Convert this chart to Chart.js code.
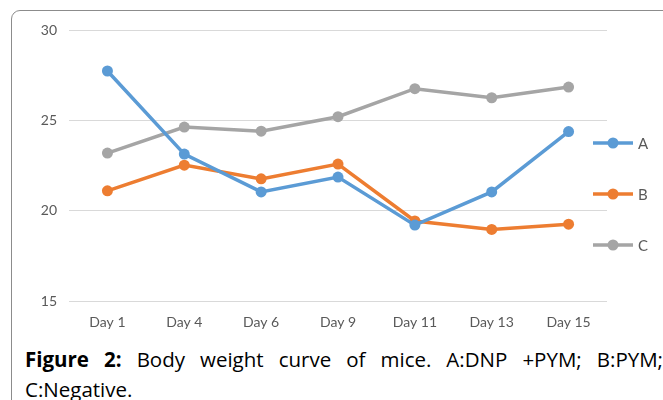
<!DOCTYPE html>
<html lang="en">
<head>
    <meta charset="UTF-8">
    <title>Body weight curve of mice</title>
    <style>
        body {
            margin: 0;
            width: 663px;
            height: 400px;
            overflow: hidden;
            background: #fff;
            position: relative;
            font-family: "Open Sans", sans-serif;
        }

        .frame {
            position: absolute;
            left: 11px;
            top: 10px;
            width: 720px;
            height: 460px;
            border: 1px solid #8c8c8c;
            border-radius: 9px;
        }

        #chart-box {
            position: absolute;
            left: 0;
            top: 0;
            width: 663px;
            height: 335px;
        }

        .caption {
            position: absolute;
            left: 25px;
            top: 344px;
            width: 638px;
            font-size: 20.5px;
            line-height: 30px;
            color: #000;
            text-align: justify;
        }
    </style>
    <script src="https://cdn.jsdelivr.net/npm/chart.js"></script>
</head>
<body>
    <div class="frame"></div>
    <div id="chart-box">
        <canvas id="weight-chart"></canvas>
    </div>
    <div class="caption"><b>Figure 2:</b> Body weight curve of mice. A:DNP +PYM; B:PYM; C:Negative.</div>
    <script>
        const days = ['Day 1', 'Day 4', 'Day 6', 'Day 9', 'Day 11', 'Day 13', 'Day 15'];
        const groupA = [27.73, 23.13, 21.04, 21.86, 19.2, 21.04, 24.38];
        const groupB = [21.1, 22.52, 21.76, 22.58, 19.43, 18.96, 19.25];
        const groupC = [23.19, 24.63, 24.4, 25.2, 26.75, 26.25, 26.84];
        const seriesNames = ['A', 'B', 'C'];
        const seriesColors = ['#5b9bd5', '#ed7d31', '#a5a5a5'];

        // legend drawn by hand: short line with a dot, then the name
        const sideLegend = {
            id: 'sideLegend',
            afterDraw(chart) {
                const ctx = chart.ctx;
                const x0 = chart.width - 70;
                chart.data.datasets.forEach((ds, i) => {
                    const y = chart.chartArea.top + 113 + i * 51;
                    ctx.save();
                    ctx.strokeStyle = ds.borderColor;
                    ctx.lineWidth = 3.5;
                    ctx.beginPath();
                    ctx.moveTo(x0, y);
                    ctx.lineTo(x0 + 40, y);
                    ctx.stroke();
                    ctx.fillStyle = ds.borderColor;
                    ctx.beginPath();
                    ctx.arc(x0 + 20, y, 5.5, 0, Math.PI * 2);
                    ctx.fill();
                    ctx.fillStyle = '#595959';
                    ctx.font = '15px Lato';
                    ctx.textBaseline = 'middle';
                    ctx.fillText(ds.label, x0 + 45, y + 1);
                    ctx.restore();
                });
            }
        };

        const values = [groupA, groupB, groupC];
        const ctx = document.getElementById('weight-chart').getContext('2d');
        new Chart(ctx, {
            type: 'line',
            data: {
                labels: days,
                datasets: values.map((v, i) => ({
                    label: seriesNames[i],
                    data: v,
                    borderColor: seriesColors[i],
                    backgroundColor: seriesColors[i],
                    borderWidth: 3.5,
                    pointRadius: 5.5,
                    pointHoverRadius: 5.5,
                    pointBorderWidth: 0,
                    tension: 0
                }))
            },
            options: {
                responsive: true,
                maintainAspectRatio: false,
                animation: false,
                layout: {
                    padding: { top: 30, right: 56, left: 0, bottom: 0 }
                },
                plugins: {
                    legend: { display: false },
                    tooltip: { enabled: false }
                },
                scales: {
                    x: {
                        offset: true,
                        grid: { display: false, drawTicks: false },
                        border: { display: false },
                        ticks: {
                            color: '#595959',
                            font: { family: 'Lato', size: 14 },
                            padding: 13
                        },
                        afterFit(scale) { scale.height = 34; }
                    },
                    y: {
                        min: 15,
                        max: 30,
                        ticks: {
                            stepSize: 5,
                            color: '#595959',
                            font: { family: 'Lato', size: 14 },
                            padding: 12
                        },
                        grid: { color: '#d9d9d9', lineWidth: 1, drawTicks: false },
                        border: { display: false },
                        afterFit(scale) { scale.width = 69; }
                    }
                }
            },
            plugins: [sideLegend]
        });
    </script>
</body>
</html>
